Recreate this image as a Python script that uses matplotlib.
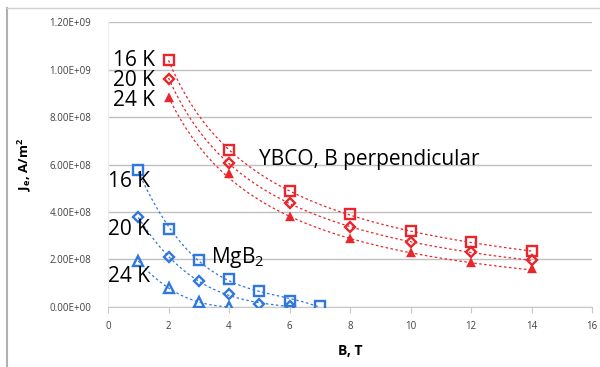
import numpy as np
import matplotlib
matplotlib.use("Agg")
import matplotlib.pyplot as plt
from matplotlib.lines import Line2D

# -----------------------------
# data
# -----------------------------
b_ybco = [2, 4, 6, 8, 10, 12, 14]
ybco_16k = [1.04e9, 6.6e8, 4.87e8, 3.9e8, 3.19e8, 2.72e8, 2.35e8]
ybco_20k = [9.62e8, 6.08e8, 4.36e8, 3.37e8, 2.73e8, 2.3e8, 1.97e8]
ybco_24k = [8.78e8, 5.58e8, 3.77e8, 2.87e8, 2.26e8, 1.86e8, 1.58e8]

b_mgb2_16k = [1, 2, 3, 4, 5, 6, 7]
mgb2_16k = [5.75e8, 3.27e8, 1.98e8, 1.18e8, 0.68e8, 0.25e8, 0.03e8]
b_mgb2_20k = [1, 2, 3, 4, 5, 6]
mgb2_20k = [3.78e8, 2.1e8, 1.09e8, 0.54e8, 0.13e8, 0.03e8]
b_mgb2_24k = [1, 2, 3, 4]
mgb2_24k = [1.94e8, 0.8e8, 0.21e8, 0.0]

yticks = [0, 2e8, 4e8, 6e8, 8e8, 1e9, 1.2e9]
xticks = [0, 2, 4, 6, 8, 10, 12, 14, 16]

RED = '#e8262b'
BLUE = '#2f78e0'
FONT = 'Open Sans'

fig = plt.figure(figsize=(6.0, 3.67), dpi=100)
ax = fig.add_axes([0.18, 0.1635, 0.807, 0.7765])


def trend_loglog(x, y):
    # smooth trendline through the YBCO points (quadratic in log-log)
    c = np.polyfit(np.log(x), np.log(y), 2)
    xs = np.linspace(min(x), max(x), 200)
    return xs, np.exp(np.polyval(c, np.log(xs)))


def trend_poly(x, y):
    c = np.polyfit(x, y, 3)
    xs = np.linspace(min(x), max(x), 200)
    return xs, np.polyval(c, xs)


series = [
    (b_ybco, ybco_16k, RED, 's', 7, 'none', trend_loglog),
    (b_ybco, ybco_20k, RED, 'D', 5, 'none', trend_loglog),
    (b_ybco, ybco_24k, RED, '^', 5, RED, trend_loglog),
    (b_mgb2_16k, mgb2_16k, BLUE, 's', 7, 'none', trend_poly),
    (b_mgb2_20k, mgb2_20k, BLUE, 'D', 5, 'none', trend_poly),
    (b_mgb2_24k, mgb2_24k, BLUE, '^', 7, 'none', trend_poly),
]

for x, y, col, mk, ms, fc, fit in series:
    xs, ys = fit(x, y)
    ax.plot(xs, ys, ls=(0, (2, 2)), color=col, lw=0.9, zorder=2)
    ax.plot(x, y, ls='none', marker=mk, ms=ms, mec=col, mfc=fc, mew=1.7, zorder=3)

ax.set_xlim(0, 16)
ax.set_ylim(0, 1.2e9)
ax.set_xticks(xticks)
ax.set_yticks(yticks)
ax.set_xticklabels([str(t) for t in xticks])
ax.set_yticklabels(['%.2E' % t for t in yticks])
ax.tick_params(axis='y', length=0, pad=12, labelsize=7, labelcolor='#404040')
ax.tick_params(axis='x', length=4, color='#c8c8c8', pad=6, labelsize=7, labelcolor='#404040')
for lab in ax.get_xticklabels() + ax.get_yticklabels():
    lab.set_family(FONT)

ax.grid(axis='y', color='#c0c0c0', lw=1.0)
ax.set_axisbelow(True)
for s in ['top', 'right']:
    ax.spines[s].set_visible(False)
ax.spines['left'].set_color('#ececec')
ax.spines['bottom'].set_color('#c8c8c8')

ax.set_xlabel('B, T', fontsize=10, fontweight='bold', family=FONT, labelpad=9)
ax.set_ylabel(r'J$_{\mathregular{e}}$, A/m$^{\mathregular{2}}$', fontsize=9.5,
              fontweight='bold', family=FONT, labelpad=12)

# labels on the chart
big = dict(fontsize=15, family=FONT, color='black', va='center')
ax.text(0.15, 1.04e9, '16 K', **big)
ax.text(0.15, 0.955e9, '20 K', **big)
ax.text(0.15, 0.87e9, '24 K', **big)
ax.text(0.0, 5.3e8, '16 K', **big)
ax.text(0.0, 3.27e8, '20 K', **big)
ax.text(0.0, 1.3e8, '24 K', **big)
ax.text(3.4, 2.07e8, r'MgB$_{\mathregular{2}}$', **big)
ax.text(5.0, 6.2e8, 'YBCO, B perpendicular', **big)

# chart frame (left and top edges)
fig.add_artist(Line2D([7 / 600, 7 / 600], [0, 1 - 8 / 367], color='#b0b0b0', lw=1.5))
fig.add_artist(Line2D([7 / 600, 1], [1 - 8 / 367, 1 - 8 / 367], color='#d0d0d0', lw=1.0))

fig.savefig('out.png', dpi=100)
